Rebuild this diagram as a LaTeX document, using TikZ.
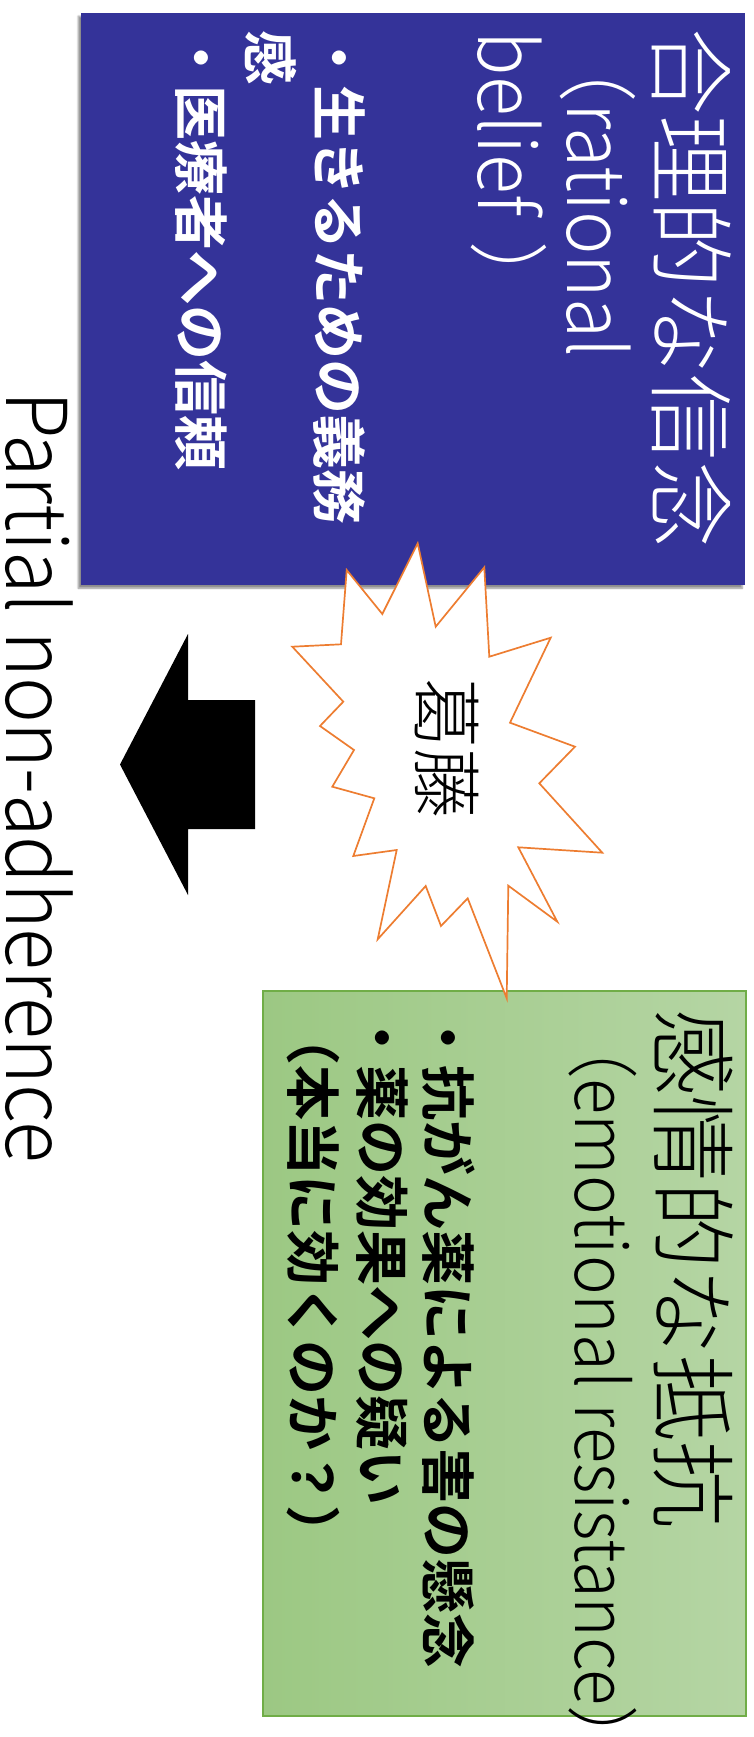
\documentclass[tikz,border=0pt]{standalone}
\usepackage{fontspec}
\usetikzlibrary{shadows.blur}
\IfFontExistsTF{Noto Sans CJK JP Light}{\newfontfamily\jpl{Noto Sans CJK JP Light}}{%
  \IfFontExistsTF{HaranoAjiGothic-Light.otf}{\newfontfamily\jpl{HaranoAjiGothic-Light.otf}}{\newfontfamily\jpl{Noto Sans CJK JP}}}
\IfFontExistsTF{Noto Sans CJK JP Bold}{\newfontfamily\jpb{Noto Sans CJK JP Bold}}{\newfontfamily\jpb{Noto Sans CJK JP}[FakeBold=2]}
\definecolor{boxblue}{RGB}{52,51,153}
\definecolor{burstorange}{RGB}{237,125,49}
\definecolor{boxgreen}{RGB}{112,173,71}
\definecolor{greenleft}{RGB}{156,200,131}
\definecolor{greenright}{RGB}{181,213,164}
\tikzset{
  vtxt/.style={rotate=-90, anchor=base west, inner sep=0pt, outer sep=0pt},
  titlefont/.style={font=\jpl\fontsize{86.5}{90}\selectfont},
  latinfont/.style={font=\jpl\fontsize{80}{90}\selectfont},
  smalllatin/.style={font=\jpl\fontsize{72}{80}\selectfont},
  biglatin/.style={font=\jpl\fontsize{84}{90}\selectfont},
  bulletfont/.style={font=\jpb\fontsize{55}{60}\selectfont},
  bluebox/.style={fill=boxblue, draw=none, anchor=north west, inner sep=0pt,
    blur shadow={shadow xshift=-3pt, shadow yshift=-3pt, shadow blur steps=6, shadow opacity=45}},
  greenbox/.style={draw=boxgreen, line width=1.6pt, left color=greenleft, right color=greenright,
    anchor=north west, inner sep=0pt},
  burst/.style={draw=burstorange, fill=white, line width=1.7pt, line join=miter},
}
\begin{document}
\begin{tikzpicture}[x=1pt,y=-1pt]
\useasboundingbox (0,0) rectangle (753,1737);
% boxes
\node[bluebox, minimum width=664pt, minimum height=572pt] (rational) at (81,13) {};
\node[greenbox, minimum width=483pt, minimum height=725pt] (emotional) at (262,990) {};
% blue box text
\node[vtxt, titlefont, text=white] (r1) at (658,29) {合理的な信念};
\node[vtxt, latinfont, text=white] (r2) at (567,30) {\scalebox{0.915}[1]{（rational}};
\node[vtxt, latinfont, text=white] (r3) at (478,32) {\scalebox{0.92}[1]{belief\kern28pt）}};
\node[vtxt, bulletfont, text=white] (r4) at (318,31) {・生きるための義務};
\node[vtxt, bulletfont, text=white] (r5) at (249,31) {感};
\node[vtxt, bulletfont, text=white] (r6) at (180,31) {・医療者への信頼};
% green box text
\node[vtxt, titlefont] (e1) at (660,1009) {感情的な抵抗};
\node[vtxt, smalllatin] (e2) at (575,1012) {\scalebox{0.93}[1]{（emotional resistance）}};
\node[vtxt, bulletfont] (e3) at (427,1010) {・抗がん薬による害の懸念};
\node[vtxt, bulletfont] (e4) at (361,1010) {・薬の効果への疑い};
\node[vtxt, bulletfont] (e5) at (292,1010) {（本当に効くのか？）};
% explosion
\draw[burst] (417.7,543.3) -- (435.7,626.7) -- (484.3,567.3) -- (489.3,656.7)
  -- (550.7,637.7) -- (510,722.7) -- (575,746.7) -- (539.3,783.3)
  -- (602.3,852.7) -- (518.3,847.3) -- (557.3,921.7) -- (508.3,885.7)
  -- (506.7,998.3) -- (467.7,898.3) -- (441,926) -- (425.7,886)
  -- (377.7,939.3) -- (396.7,850) -- (353.3,856) -- (374.3,798.3)
  -- (332.3,786.7) -- (354,750) -- (320,726) -- (343.3,701.7)
  -- (292.3,646.7) -- (341,644.3) -- (346.7,570) -- (382.3,614) -- cycle;
\node[rotate=-90, inner sep=0pt, font=\jpl\fontsize{70}{70}\selectfont] (conflict) at (447,748) {葛藤};
% block arrow
\fill[black] (120,764.5) -- (188,634) -- (188,700) -- (255,700) -- (255,829)
  -- (188,829) -- (188,895) -- cycle;
% result label
\node[vtxt, biglatin] (result) at (6,391) {\scalebox{0.92}[1]{Partial non-adherence}};
\end{tikzpicture}
\end{document}
